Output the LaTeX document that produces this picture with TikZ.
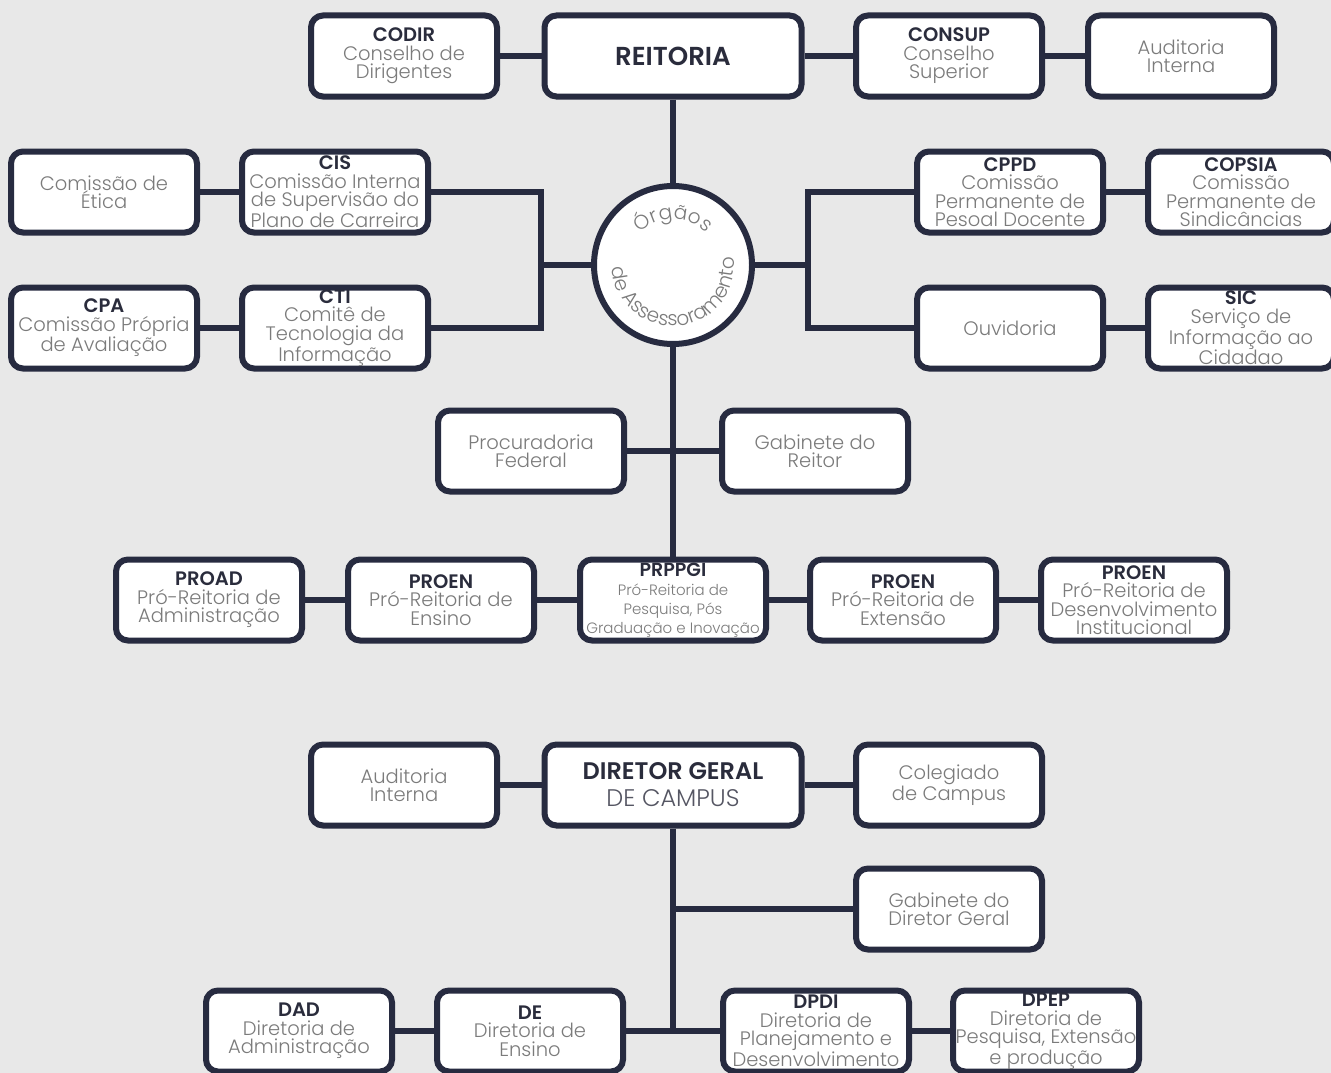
\documentclass[tikz,border=0pt]{standalone}
\usepackage{fontspec}
\setmainfont{Poppins}[UprightFont={* Light},BoldFont={* SemiBold}]
\usetikzlibrary{decorations.text}
\definecolor{bg}{HTML}{E8E8E8}
\definecolor{navy}{HTML}{272B40}
\definecolor{txt}{HTML}{7B7B7B}
\definecolor{hdc}{HTML}{2A2C3C}
\newcommand\hdr[1]{{\bfseries\color{hdc}#1}}
\begin{document}
\begin{tikzpicture}[x=1pt,y=-1pt,
 box/.style={draw=navy, line width=6pt, fill=white, rounded corners=12pt,
   minimum width=186pt, minimum height=81pt, align=center, text=txt,
   inner sep=0pt, font=\fontsize{19.5}{18.5}\selectfont},
 widebox/.style={box, minimum width=257pt},
 link/.style={draw=navy, line width=6pt}]
\fill[bg] (0,0) rectangle (1331,1073);
\useasboundingbox (0,0) rectangle (1331,1073);

% top row
\node[box] (codir) at (404,56) {\hdr{CODIR}\\Conselho de\\Dirigentes};
\node[widebox, font=\fontsize{26}{26}\selectfont] (reit) at (673,56) {\hdr{REITORIA}};
\node[box] (consup) at (949,56) {\hdr{CONSUP}\\Conselho\\Superior};
\node[box] (aud) at (1181,56) {Auditoria\\Interna};

% left group
\node[box] (etica) at (104,192) {Comissão de\\Ética};
\node[box] (cis) at (335,192) {\hdr{CIS}\\Comissão Interna\\de Supervisão do\\Plano de Carreira};
\node[box] (cpa) at (104,328) {\hdr{CPA}\\Comissão Própria\\de Avaliação};
\node[box] (cti) at (335,328) {\hdr{CTI}\\Comitê de\\Tecnologia da\\Informação};

% circle
\node[draw=navy, line width=6pt, fill=white, circle, minimum size=158pt, inner sep=0pt] (org) at (673,265) {};
\path[decorate, decoration={text along path, text align=center,
  text={|\fontsize{20}{20}\selectfont\color{txt}|Órgãos}}]
  ([shift={(-150:46)}]673,265) arc[start angle=-150, end angle=-30, radius=46];
\path[decorate, decoration={text along path, text align=center,
  text={|\fontsize{20}{20}\selectfont\color{txt}|de Assessoramento}}]
  ([shift={(-180:61)}]673,265) arc[start angle=-180, end angle=-370, radius=61];

% right group
\node[box] (cppd) at (1010,192) {\hdr{CPPD}\\Comissão\\Permanente de\\Pesoal Docente};
\node[box] (copsia) at (1241,192) {\hdr{COPSIA}\\Comissão\\Permanente de\\Sindicâncias};
\node[box] (ouv) at (1010,328) {Ouvidoria};
\node[box] (sic) at (1241,328) {\hdr{SIC}\\Serviço de\\Informação ao\\Cidadao};

% middle
\node[box] (proc) at (531,451) {Procuradoria\\Federal};
\node[box] (gab) at (815,451) {Gabinete do\\Reitor};

% pro-reitorias
\node[box] (proad) at (209,600) {\hdr{PROAD}\\Pró-Reitoria de\\Administração};
\node[box] (proen1) at (441,600) {\hdr{PROEN}\\Pró-Reitoria de\\Ensino};
\node[box, font=\fontsize{15}{19}\selectfont] (prppgi) at (673,600) {{\fontsize{19}{19}\selectfont\hdr{PRPPGI}}\\Pró-Reitoria de\\Pesquisa, Pós\\Graduação e Inovação};
\node[box] (proen2) at (903,600) {\hdr{PROEN}\\Pró-Reitoria de\\Extensão};
\node[box] (proen3) at (1134,600) {\hdr{PROEN}\\Pró-Reitoria de\\Desenvolvimento\\Institucional};

% campus
\node[box] (aud2) at (404,785) {Auditoria\\Interna};
\node[widebox, font=\fontsize{24}{27}\selectfont] (dg) at (673,785) {\hdr{DIRETOR GERAL}\\{\color{hdc!80}DE CAMPUS}};
\node[box] (coleg) at (949,785) {Colegiado\\de Campus};
\node[box] (gabdg) at (949,909) {Gabinete do\\Diretor Geral};

\node[box] (dad) at (299,1031) {\hdr{DAD}\\Diretoria de\\Administração};
\node[box] (de) at (530,1031) {\hdr{DE}\\Diretoria de\\Ensino};
\node[box] (dpdi) at (816,1031) {\hdr{DPDI}\\Diretoria de\\Planejamento e\\Desenvolvimento};
\node[box] (dpep) at (1046,1031) {\hdr{DPEP}\\Diretoria de\\Pesquisa, Extensão\\e produção};

% connectors
\coordinate (lj) at (541,265);
\coordinate (rj) at (808,265);
\coordinate (bj) at (673,1031);
\draw[link] (codir) -- (reit);
\draw[link] (reit) -- (consup);
\draw[link] (consup) -- (aud);
\draw[link] (reit) -- (org);
\draw[link] (etica) -- (cis);
\draw[link] (cpa) -- (cti);
\draw[link] (cis.east) -| (lj) |- (cti.east);
\draw[link] (org.west) -- (lj);
\draw[link] (cppd.west) -| (rj) |- (ouv.west);
\draw[link] (org.east) -- (rj);
\draw[link] (cppd) -- (copsia);
\draw[link] (ouv) -- (sic);
\draw[link] (org.south) -- (prppgi.north);
\draw[link] (proc.east) -- (gab.west);
\draw[link] (proad) -- (proen1);
\draw[link] (proen1) -- (prppgi);
\draw[link] (prppgi) -- (proen2);
\draw[link] (proen2) -- (proen3);
\draw[link] (aud2) -- (dg);
\draw[link] (dg) -- (coleg);
\draw[link] (dg.south) -- (bj);
\draw[link] (gabdg.west) -- (gabdg.west -| dg.south);
\draw[link] (dad) -- (de);
\draw[link] (de) -- (dpdi);
\draw[link] (dpdi) -- (dpep);
\end{tikzpicture}
\end{document}
